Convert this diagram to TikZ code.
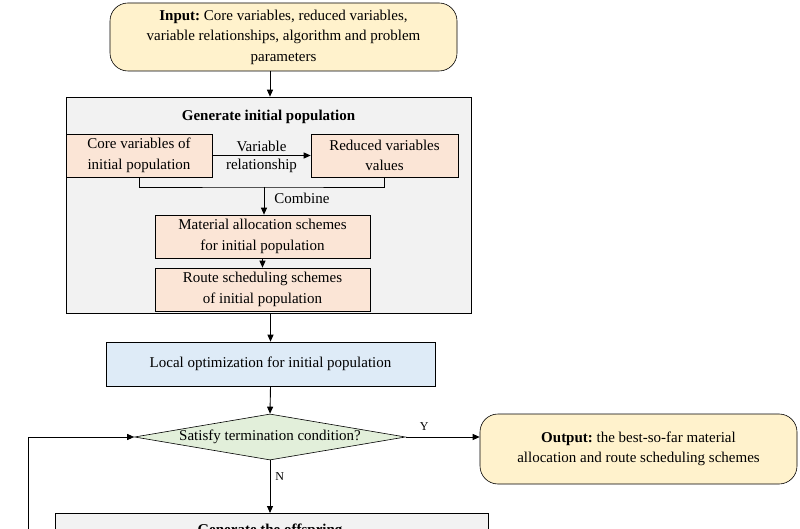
\documentclass[tikz,border=0pt]{standalone}
\usepackage{fontspec}
\setmainfont{Liberation Serif}
\usetikzlibrary{shapes.geometric,arrows.meta}
\definecolor{yel}{RGB}{255,242,204}
\definecolor{gry}{RGB}{242,242,242}
\definecolor{pch}{RGB}{251,229,214}
\definecolor{blu}{RGB}{222,235,247}
\definecolor{grn}{RGB}{226,239,218}
\tikzset{
 every node/.style={font=\fontsize{15}{20.5}\selectfont, align=center, inner sep=0pt},
 term/.style={draw, fill=yel, rounded corners=18pt, line width=0.6pt},
 pbox/.style={draw, fill=pch, line width=0.6pt},
 arr/.style={-{Triangle[length=7pt,width=6pt]}, line width=0.9pt},
 ln/.style={line width=0.9pt},
 yn/.style={font=\fontsize{12}{14}\selectfont}
}
\begin{document}
\begin{tikzpicture}[x=1pt,y=-1pt]
\useasboundingbox (0,0) rectangle (800,529);
\fill[white] (0,0) rectangle (800,529);
\node[term, minimum width=347pt, minimum height=68pt] (in) at (283.5,37) {\textbf{Input:}\ Core variables, reduced variables,\\variable relationships, algorithm and problem\\parameters};
\node[draw, fill=gry, line width=0.6pt, minimum width=405pt, minimum height=216pt] (gen) at (268.5,205) {};
\node (gt) at (268.5,117) {\textbf{Generate initial population}};
\node[pbox, minimum width=146pt, minimum height=43pt] (core) at (139,155.5) {Core variables of\\initial population};
\node[pbox, minimum width=147pt, minimum height=43pt] (red) at (384.5,155.5) {Reduced variables\\values};
\node[pbox, minimum width=215pt, minimum height=43pt] (mat) at (262.5,236.5) {Material allocation schemes\\for initial population};
\node[pbox, minimum width=215pt, minimum height=43pt] (rt) at (262.5,289.5) {Route scheduling schemes\\of initial population};
\node[draw, fill=blu, line width=0.6pt, minimum width=329pt, minimum height=44pt] (loc) at (270.5,364) {Local optimization for initial population};
\node[diamond, draw, fill=grn, aspect=5.9, minimum width=271pt, minimum height=46pt, line width=0.6pt] (dec) at (270,437) {Satisfy termination condition?};
\node[term, minimum width=317pt, minimum height=70pt] (out) at (638.5,449) {\textbf{Output:}\ the best-so-far material\\allocation and route scheduling schemes};
\node[draw, fill=gry, line width=0.6pt, minimum width=433pt, minimum height=60pt, anchor=north west] (off) at (55,513) {};
\node (ot) at (270,531) {\textbf{Generate the offspring}};
\coordinate (lp) at (28,540);
\coordinate (ina) at (270,71);
\draw[arr] (ina) -- (ina |- gen.north);
\draw[arr] (core.east) -- node[above=3pt]{Variable} node[below=3pt]{relationship} (red.east -| red.west);
\coordinate (cj) at (264,187);
\draw[ln] (core.south) |- (cj) -| (red.south);
\draw[arr] (cj) -- node[right=10pt, pos=0.4]{Combine} (cj |- mat.north);
\draw[arr] (mat.south) -- (rt.north);
\draw[arr] (gen.south -| loc.north) -- (loc.north);
\draw[arr] (loc.south) -- (dec.north);
\draw[arr] (dec.east) -- node[yn, above=6pt, pos=0.25]{Y} (dec.east -| out.west);
\draw[arr] (dec.south) -- node[yn, right=5pt, pos=0.3]{N} (dec.south |- off.north);
\draw[arr] (lp) |- (dec.west);
\end{tikzpicture}
\end{document}
